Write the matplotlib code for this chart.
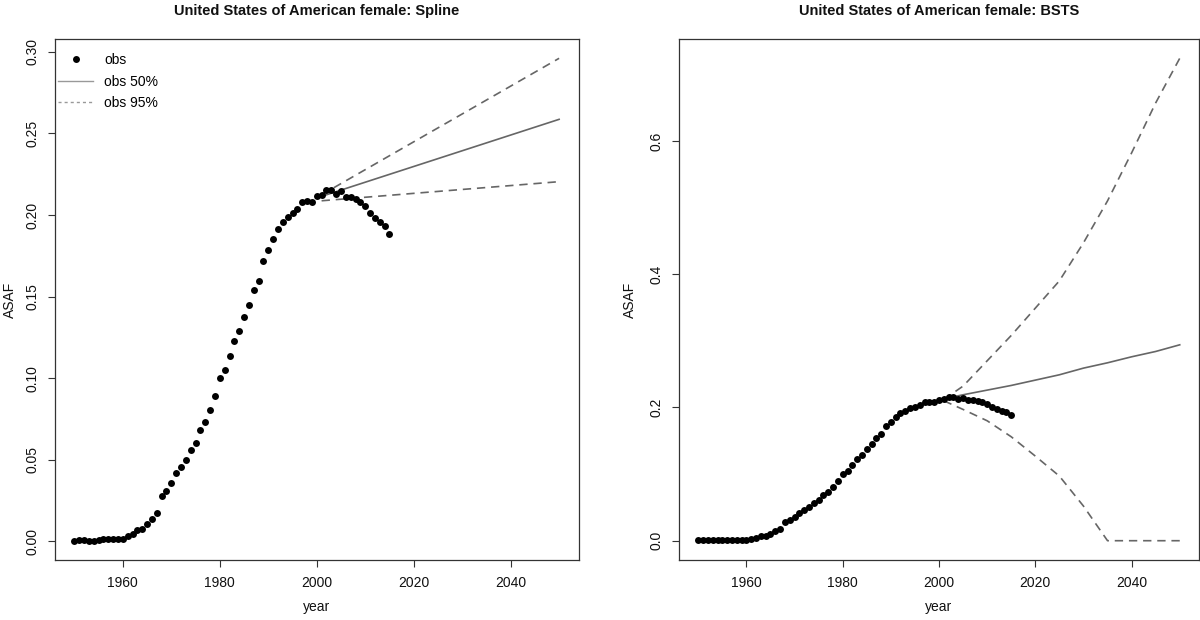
import matplotlib
matplotlib.use("Agg")
import matplotlib.pyplot as plt
from matplotlib.lines import Line2D
import numpy as np

plt.rcParams['font.family'] = ['Liberation Sans', 'DejaVu Sans']

# ---------------- data ----------------
obs_years = list(range(1950, 2016))
obs_asaf = [0.0004, 0.0008, 0.0010, 0.0004, 0.0004, 0.0010, 0.0014, 0.0012, 0.0012, 0.0012,
            0.0014, 0.0033, 0.0045, 0.0070, 0.0076, 0.0107, 0.0140, 0.0171, 0.0277, 0.0306,
            0.0359, 0.0419, 0.0458, 0.0501, 0.0562, 0.0605, 0.0685, 0.0733, 0.0802, 0.0891,
            0.0999, 0.1053, 0.1135, 0.1230, 0.1291, 0.1375, 0.1447, 0.1539, 0.1595, 0.1720,
            0.1784, 0.1853, 0.1915, 0.1954, 0.1985, 0.2014, 0.2036, 0.2077, 0.2086, 0.2080,
            0.2117, 0.2120, 0.2154, 0.2150, 0.2127, 0.2148, 0.2108, 0.2112, 0.2098, 0.2080,
            0.2057, 0.2009, 0.1983, 0.1954, 0.1935, 0.1882]

spline_years = [2001, 2050]
spline_med = [0.2114, 0.2586]
spline_lo95 = [0.2087, 0.2204]
spline_hi95 = [0.2124, 0.2960]

bsts_years = [2001, 2005, 2010, 2015, 2020, 2025, 2030, 2035, 2040, 2045, 2050]
bsts_med = [0.213, 0.219, 0.226, 0.233, 0.241, 0.249, 0.259, 0.267, 0.276, 0.284, 0.294]
bsts_lo95 = [0.210, 0.197, 0.180, 0.156, 0.127, 0.097, 0.052, 0.000, 0.000, 0.000, 0.000]
bsts_hi95 = [0.212, 0.232, 0.270, 0.308, 0.349, 0.390, 0.447, 0.510, 0.582, 0.657, 0.724]

titles = ["United States of American female: Spline",
          "United States of American female: BSTS"]
xticks = [1960, 1980, 2000, 2020, 2040]
yticks_left = [0.00, 0.05, 0.10, 0.15, 0.20, 0.25, 0.30]
yticks_right = [0.0, 0.2, 0.4, 0.6]
legend_labels = ["obs", "obs 50%", "obs 95%"]

# ---------------- figure ----------------
W, H = 1200, 620
fig = plt.figure(figsize=(W / 100, H / 100), dpi=100)
box_bottom, box_top = 560, 39
ax1 = fig.add_axes([55 / W, (H - box_bottom) / H, 523.5 / W, (box_bottom - box_top) / H])
ax2 = fig.add_axes([679 / W, (H - box_bottom) / H, 520 / W, (box_bottom - box_top) / H])

LINE_C = '#666666'
DASH = (5, 3.5)
FS = 10


def r_limits(vals):
    lo, hi = min(vals), max(vals)
    pad = 0.04 * (hi - lo)
    return lo - pad, hi + pad


def style_axes(ax, title, yticks, yfmt, ylab_x):
    ax.set_xticks(xticks)
    ax.set_yticks(yticks)
    ax.set_yticklabels([yfmt.format(v) for v in yticks])
    for s in ax.spines.values():
        s.set_color('#333333')
        s.set_linewidth(0.9)
    ax.tick_params(axis='both', direction='out', length=4.8, width=0.8,
                   color='#333333', labelsize=FS, pad=6.5, labelcolor='#111111')
    ax.tick_params(axis='y', labelrotation=90)
    for lbl in ax.get_yticklabels():
        lbl.set_va('center')
    ax.set_xlabel('year', fontsize=FS, color='#111111')
    ax.xaxis.set_label_coords(0.5, (box_bottom - 607) / (box_bottom - box_top))
    ax.xaxis.label.set_va('center')
    ax.set_ylabel('ASAF', fontsize=FS, color='#111111')
    ax.yaxis.set_label_coords(ylab_x, 0.5)
    ax.yaxis.label.set_va('center')
    ax.text(0.5, (box_bottom - 11) / (box_bottom - box_top), title, transform=ax.transAxes,
            ha='center', va='center', fontsize=10.5, fontweight='bold', color='#111111')


# ---- left: Spline ----
ax1.plot(obs_years, obs_asaf, 'o', color='black', ms=5.0, mec='black', mew=0, zorder=3)
ax1.plot(spline_years, spline_med, '-', color=LINE_C, lw=1.2)
ax1.plot(spline_years, spline_lo95, '--', color=LINE_C, lw=1.2, dashes=DASH)
ax1.plot(spline_years, spline_hi95, '--', color=LINE_C, lw=1.2, dashes=DASH)
ax1.set_xlim(*r_limits(obs_years + spline_years))
ax1.set_ylim(*r_limits(obs_asaf + spline_med + spline_lo95 + spline_hi95))
style_axes(ax1, titles[0], yticks_left, '{:.2f}', (10 - 55) / 523.5)

handles = [Line2D([], [], ls='none', marker='o', color='black', ms=5.0, mew=0),
           Line2D([], [], ls='-', color='#999999', lw=1.0),
           Line2D([], [], ls='--', color='#999999', lw=1.0, dashes=(2.2, 2.2))]
ax1.legend(handles, legend_labels, loc='upper left', frameon=False, fontsize=FS,
           bbox_to_anchor=(0.006, 0.973), borderaxespad=0, borderpad=0,
           handlelength=2.5, handletextpad=0.8, labelspacing=0.55)

# ---- right: BSTS ----
ax2.plot(obs_years, obs_asaf, 'o', color='black', ms=5.0, mec='black', mew=0, zorder=3)
ax2.plot(bsts_years, bsts_med, '-', color=LINE_C, lw=1.2)
ax2.plot(bsts_years, bsts_lo95, '--', color=LINE_C, lw=1.2, dashes=DASH)
ax2.plot(bsts_years, bsts_hi95, '--', color=LINE_C, lw=1.2, dashes=DASH)
ax2.set_xlim(*r_limits(obs_years + bsts_years))
ax2.set_ylim(*r_limits(obs_asaf + bsts_med + bsts_lo95 + bsts_hi95))
style_axes(ax2, titles[1], yticks_right, '{:.1f}', (630 - 679) / 520)

fig.savefig('out.png', dpi=100, facecolor='white')
